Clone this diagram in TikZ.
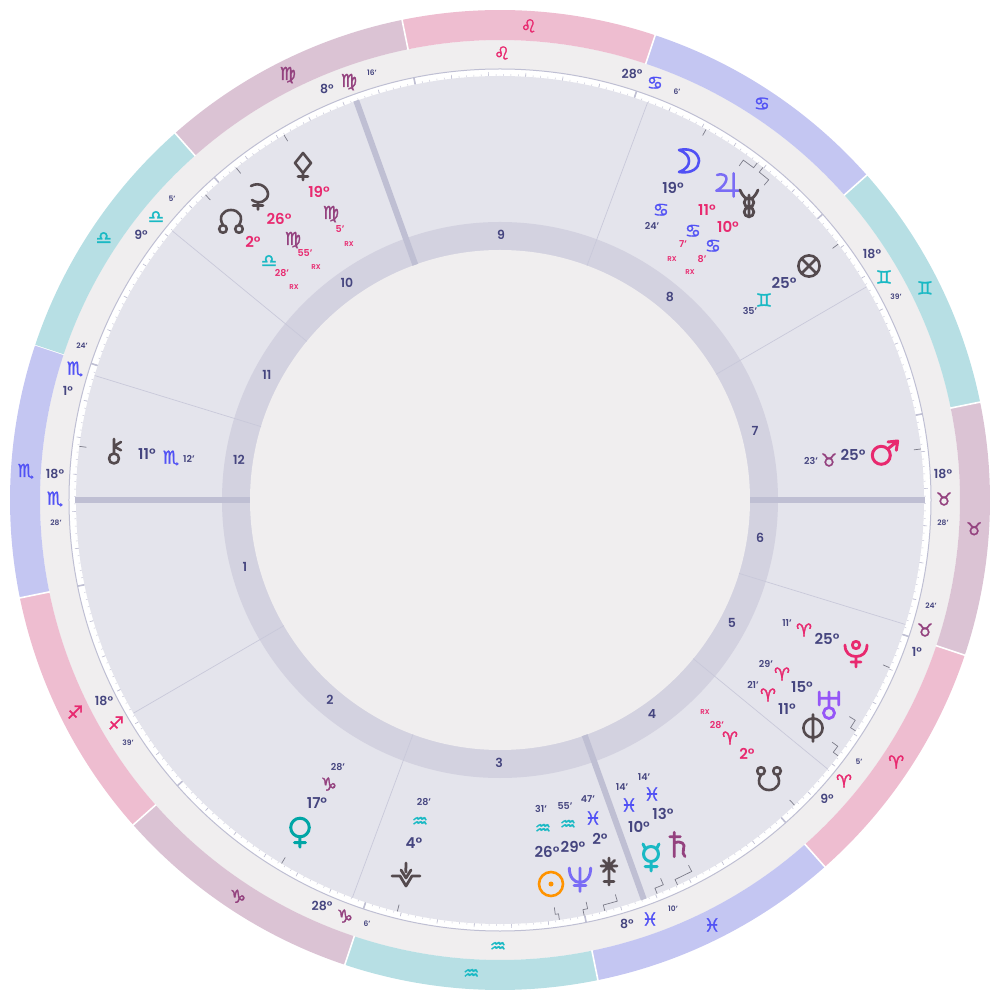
\documentclass[tikz,border=0pt]{standalone}
\usepackage{fontspec}
\setmainfont{Poppins}[UprightFont=* SemiBold,BoldFont=* Bold]
\newfontfamily\symf[FakeBold=1.6]{DejaVu Sans}
\usepackage{xcolor}
\definecolor{fire}{HTML}{EEBDD0}
\definecolor{earth}{HTML}{DBC3D4}
\definecolor{air}{HTML}{B7DFE4}
\definecolor{water}{HTML}{C4C6F2}
\definecolor{firetx}{HTML}{E8296F}
\definecolor{earthtx}{HTML}{94427F}
\definecolor{airtx}{HTML}{1AB9C4}
\definecolor{watertx}{HTML}{5151F5}
\definecolor{paper}{HTML}{F0EEEF}
\definecolor{field}{HTML}{E4E4EC}
\definecolor{band}{HTML}{D3D2E0}
\definecolor{cuspc}{HTML}{BFBFD3}
\definecolor{numc}{HTML}{45457F}
\definecolor{greyp}{HTML}{544A4E}
\definecolor{violetp}{HTML}{7A6CF5}
\newcommand\zAri{\textcolor{firetx}{\symf ♈}}
\newcommand\zTau{\textcolor{earthtx}{\symf ♉}}
\newcommand\zGem{\textcolor{airtx}{\symf ♊}}
\newcommand\zCan{\textcolor{watertx}{\symf ♋}}
\newcommand\zLeo{\textcolor{firetx}{\symf ♌}}
\newcommand\zVir{\textcolor{earthtx}{\symf ♍}}
\newcommand\zLib{\textcolor{airtx}{\symf ♎}}
\newcommand\zSco{\textcolor{watertx}{\symf ♏}}
\newcommand\zSag{\textcolor{firetx}{\symf ♐}}
\newcommand\zCap{\textcolor{earthtx}{\symf ♑}}
\newcommand\zAqu{\textcolor{airtx}{\symf ♒}}
\newcommand\zPis{\textcolor{watertx}{\symf ♓}}
\usepackage{tikz}
\usetikzlibrary{calc}
\tikzset{
  gl/.style={line width=2.6,line cap=round,line join=round},
  gMoon/.pic={\draw[gl,watertx,line width=2.6] (-10,-11) .. controls (4,-14) and (10,-6) .. (10,0) .. controls (10,7) and (3,13) .. (-10,11) .. controls (-2,8) and (0,4) .. (0,0) .. controls (0,-4) and (-2,-8) .. cycle;},
  gJup/.pic={\draw[gl,violetp,line width=2.5] (6.7,-11.7) -- (6.7,11.7) (11.7,5.7) -- (-10.7,5.7) .. controls (-3,2) and (3,-7) .. (-3,-10) .. controls (-5,-11) and (-8,-11) .. (-10,-10);},
  gCad/.pic={\draw[gl,greyp,line width=2.8] (-9,-13) .. controls (-6,-6) and (-3,-4) .. (0,-4) .. controls (3,-4) and (6,-6) .. (9,-13) (0,-8) -- (0,14) (0,-0.5) circle[radius=4.8] (0,9) circle[radius=4.8];},
  gFort/.pic={\draw[gl,greyp] (0,0) circle[radius=10.6] (-7.4,-7.4) -- (7.4,7.4) (-7.4,7.4) -- (7.4,-7.4);},
  gMars/.pic={\draw[gl,firetx,line width=3] (-2.7,2.3) circle[radius=9] (3.7,-4) -- (13.7,-12) (4,-11) -- (13.7,-12) -- (12.3,-2.7);},
  gPlu/.pic={\draw[gl,firetx,line width=2.8] (-11,-8) .. controls (-11,0) and (-6,3.5) .. (0,3.5) .. controls (6,3.5) and (11,0) .. (11,-8) (0,-8) circle[radius=3.7] (0,3.5) -- (0,14) (-5,9) -- (5,9);},
  gUra/.pic={\draw[gl,violetp!80!magenta,line width=2.8] (-9.8,-13) -- (-9.8,0) (9.8,-13) -- (9.8,0) (-9.8,-6.7) -- (9.8,-6.7) (0,-13) -- (0,2.5) (0,8) circle[radius=5.5];},
  gPhi/.pic={\draw[gl,greyp] (0,0) circle[radius=9.6] (0,-13.5) -- (0,13.5);},
  gSnode/.pic={\draw[gl,greyp] (-8,-8) circle[radius=3.8] (8,-8) circle[radius=3.8] (-8,-4) .. controls (-13,4) and (-8,11) .. (0,11) .. controls (8,11) and (13,4) .. (8,-4);},
  gNnode/.pic={\draw[gl,greyp] (-8,8) circle[radius=3.8] (8,8) circle[radius=3.8] (-8,4) .. controls (-13,-4) and (-8,-11) .. (0,-11) .. controls (8,-11) and (13,-4) .. (8,4);},
  gSat/.pic={\draw[gl,earthtx,line width=2.8] (-2.7,-12.7) -- (-2.7,11.7) (-7.3,-8.3) -- (3.3,-8.3) (-2.7,-2) .. controls (4,-5) and (9,-1) .. (6.5,4) .. controls (5.5,7) and (6,10) .. (8,11.5);},
  gMerc/.pic={\draw[gl,airtx,line width=3] (0,-3) circle[radius=7.5] (-8,-13) -- (-6,-9) (8,-13) -- (6,-9) (0,5) -- (0,14) (-6,9.5) -- (6,9.5);},
  gStar/.pic={\draw[gl,greyp,line width=2.8] (0,-14) -- (0,13) (-8,-6) -- (8,-6) (-5.7,-11.7) -- (5.7,-0.3) (-5.7,-0.3) -- (5.7,-11.7) (-5,9.5) -- (5,9.5);},
  gNep/.pic={\draw[gl,violetp,line width=2.9] (-10.7,-11) .. controls (-10.7,-2) and (-6,3.5) .. (0,3.5) .. controls (6,3.5) and (10.7,-2) .. (10.7,-11) (0,-11) -- (0,12.3) (-6,6.5) -- (6,6.5);},
  gSun/.pic={\draw[gl,orange!85!yellow] (0,0) circle[radius=12]; \fill[orange!85!yellow] (0,0) circle[radius=2.5];},
  gBlack/.pic={\draw[gl,greyp,line width=2.8] (-14,1) -- (-6,1) -- (0,11) -- (6,1) -- (14,1) (-5,-5) -- (0,3) -- (5,-5) (0,-12) .. controls (1,-9) and (-1,-7) .. (0,-3);},
  gVen/.pic={\draw[gl,teal!70!cyan,line width=3] (0,-4.5) circle[radius=9.3] (0,5) -- (0,15) (-5.5,10.5) -- (5.5,10.5);},
  gChi/.pic={\draw[gl,greyp] (0,6.5) circle[radius=5] (0,-13) -- (0,1.5) (7,-10) -- (0,-5.7) -- (7,-1.7);},
  gCer/.pic={\draw[gl,greyp] (-7,-10) .. controls (2,-15) and (10,-8) .. (10,-2) .. controls (10,5) and (1,9) .. (-6,4) (0,7) -- (0,13.5) (-5,9.5) -- (5,9.5);},
  gDia/.pic={\draw[gl,greyp] (0,-13) -- (8,-3) -- (0,7) -- (-8,-3) -- cycle (0,7) -- (0,14) (-5,10.5) -- (5,10.5);},
}
\begin{document}
\begin{tikzpicture}[x=1pt,y=1pt,
  sgn/.style={font=\fontsize{18}{18}\selectfont,inner sep=0pt},
  big/.style={font=\fontsize{15}{15}\selectfont,text=numc,inner sep=0pt},
  bigred/.style={big,text=firetx},
  cuspdeg/.style={font=\fontsize{12.5}{13}\selectfont,text=numc,inner sep=0pt},
  mins/.style={font=\fontsize{9.5}{10}\selectfont,text=numc,inner sep=0pt},
  minsred/.style={mins,text=firetx},
  cuspmin/.style={font=\fontsize{7.5}{8}\selectfont,text=numc,inner sep=0pt},
  rxlab/.style={font=\fontsize{7}{8}\selectfont,text=firetx,inner sep=0pt},
  housenum/.style={font=\fontsize{12.5}{13}\selectfont,text=numc,inner sep=0pt},
  leader/.style={line width=.7,color=black!35!cuspc}]
  \useasboundingbox (-500,-500) rectangle (500,500);
  % sign ring
  \fill[paper] (0,0) circle[radius=460];
  \foreach \a/\c in {161.53/water,191.53/fire,221.53/earth,251.53/air,281.53/water,311.53/fire,341.53/earth,11.53/air,41.53/water,71.53/fire,101.53/earth,131.53/air} {
    \fill[\c] (\a:460) arc[start angle=\a,delta angle=30,radius=460] -- (\a+30:490) arc[start angle=\a+30,delta angle=-30,radius=490] -- cycle;
    \draw[white,line width=1.6] (\a:459.5) -- (\a:491);
  }
  \foreach \a/\s [count=\i] in {176.53/\zSco,206.53/\zSag,236.53/\zCap,266.53/\zAqu,296.53/\zPis,326.53/\zAri,356.53/\zTau,26.53/\zGem,56.53/\zCan,86.53/\zLeo,116.53/\zVir,146.53/\zLib}
    \node[sgn] (ring\i) at (\a:475) {\s};
  % degree scale
  \draw[cuspc,fill=white,line width=1] (0,0) circle[radius=431];
  \foreach \d in {0,...,359} \draw[cuspc!80,line width=.5] (161.53+\d:424) -- (161.53+\d:426);
  \foreach \d in {0,5,...,355} \draw[cuspc,line width=.6] (161.53+\d:424) -- (161.53+\d:428);
  \foreach \d in {0,30,...,330} \draw[cuspc,line width=1.6] (161.53+\d:424) -- (161.53+\d:431);
  \fill[field] (0,0) circle[radius=424];
  \fill[band] (0,0) circle[radius=278];
  \fill[paper] (0,0) circle[radius=250];
  % houses
  \foreach \a in {140.61,162.93,210.18,249.63,320.61,342.93,30.18,69.63} \draw[cuspc!85,line width=.7] (\a:250) -- (\a:424);
  \foreach \a in {0,180,109.8,289.8} \draw[cuspc,line width=6] (\a:250) -- (\a:424.5);
  % planet ticks, some with a jog
  \foreach \a in {60.93,37.11,6.91,336.71,313.99,255.99,239,172.73,133.99,128.45,120.61} \draw[leader] (\a:424) -- (\a:417);
  \foreach \a/\b in {52.65/54.4,51.66/50,327/328.2,322.88/323.9,294.76/297.3,291.76/293,284.31/286.3,281.45/282.1,278.05/277.6}
    \draw[leader] (\a:424) -- (\a:418) -- (\b:418) -- (\b:411);
  \begin{scope}[shift={(-500,500)},y=-1pt]
    \foreach \x/\y/\t [count=\i] in {501/235/9,670/297/8,755/431/7,760/538/6,732/623/5,652/714/4,499/763/3,330/700/2,245/567/1,239/460/12,267/375/11,347/283/10}
      \node[housenum] (house\i) at (\x,\y) {\t};
    % signs inside the scale
    \foreach \x/\y/\s [count=\i] in {502/53/\zLeo,349/82/\zVir,156/217/\zLib,75/369/\zSco,55/499/\zSco,116/723/\zSag,345/916/\zCap,498/947/\zAqu,650/919/\zPis,844/781/\zAri,925/630/\zTau,944/499/\zTau,884/277/\zGem,655/83/\zCan,
      661/210/\zCan,693/231/\zCan,713/246/\zCan,764/300/\zGem,829/460/\zTau,804/630/\zAri,782/674/\zAri,768/695/\zAri,730/738/\zAri,652/794/\zPis,629/805/\zPis,593/818/\zPis,568/825/\zAqu,543/829/\zAqu,420/822/\zAqu,329/784/\zCap,171/458/\zSco,269/261/\zLib,293/240/\zVir,331/214/\zVir}
      \node[sgn] (sign\i) at (\x,\y) {\s};
    % cusp labels
    \foreach \x/\y/\t [count=\i] in {327/89/8,141/235/9,68/391/1,55/474/18,104/701/18,322/906/28,627/924/8,827/799/9,917/652/1,943/474/18,872/254/18,632/74/28}
      \node[cuspdeg] (cdeg\i) at (\x,\y) {\t°};
    \foreach \x/\y/\t [count=\i] in {372/73/16,172/199/5,82/346/24,56/523/28,128/743/39,367/924/6,673/909/10,859/762/5,931/606/24,943/523/28,896/297/39,677/92/6}
      \node[cuspmin] (cmin\i) at (\x,\y) {\t'};
    % planet labels
    \foreach \x/\y/\t [count=\i] in {673/188/19,784/283/25,853/455/25,827/639/25,802/687/15,787/709/11,663/814/13,639/827/10,600/839/2,573/847/29,547/852/26,414/843/4,317/803/17,147/454/11}
      \node[big] (deg\i) at (\x,\y) {\t°};
    \foreach \x/\y/\t [count=\i] in {707/210/11,728/227/10,747/754/2,253/242/2,279/219/26,319/192/19}
      \node[bigred] (rdeg\i) at (\x,\y) {\t°};
    \foreach \x/\y/\t [count=\i] in {652/226/24,750/311/35,811/461/23,787/623/11,766/664/29,753/685/21,644/777/14,622/787/14,588/799/47,565/806/55,541/809/31,424/802/28,338/767/28,189/459/12}
      \node[mins] (min\i) at (\x,\y) {\t'};
    \foreach \x/\y/\t [count=\i] in {683/244/7,702/259/8,717/725/28,282/273/28,305/253/55,340/229/5}
      \node[minsred] (rmin\i) at (\x,\y) {\t'};
    \foreach \x/\y [count=\i] in {672/259,690/272,705/712,294/287,316/267,349/244}
      \node[rxlab] (rx\i) at (\x,\y) {RX};
    % planets
    \foreach \x/\y/\g in {689/161/gMoon,727/185/gJup,749/203/gCad,809/266/gFort,884/453/gMars,856/653/gPlu,829/705/gUra,813/728/gPhi,769/779/gSnode,677/845/gSat,651/857/gMerc,609/872/gStar,580/879/gNep,551/884/gSun,406/875/gBlack,300/832/gVen,114/452/gChi,231/221/gNnode,258/196/gCer,303/166/gDia}
      \path (\x,\y) pic {\g};
  \end{scope}
\end{tikzpicture}
\end{document}
